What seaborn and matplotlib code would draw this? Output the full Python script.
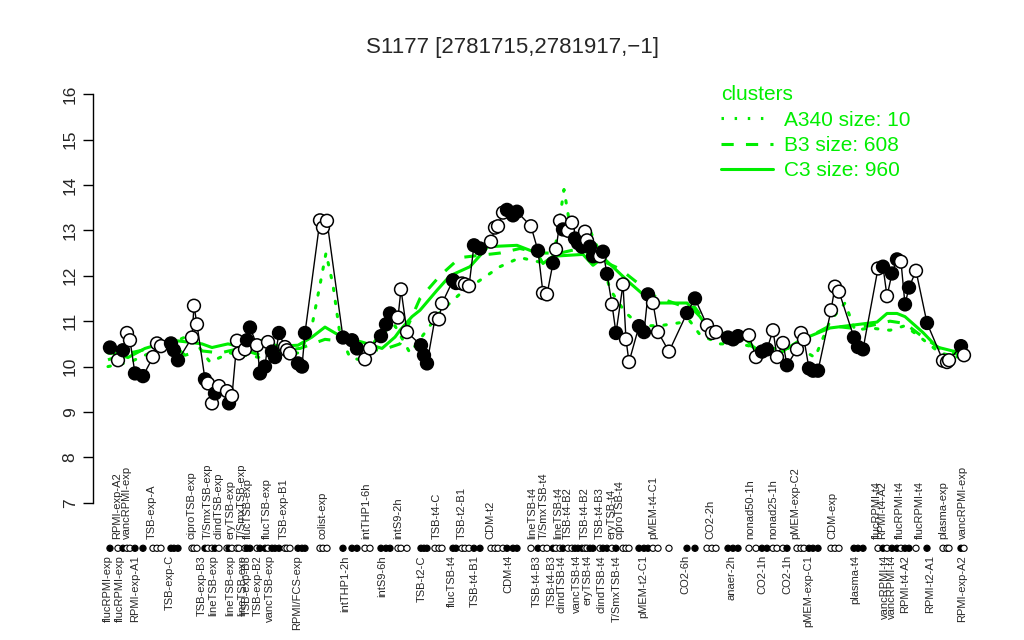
import pandas as pd
import matplotlib
matplotlib.use("Agg")
import matplotlib.pyplot as plt
from matplotlib.lines import Line2D
import seaborn as sns

# sample positions along the condition axis, expression values, filled (True) / open (False)
positions = [3.4, 5.0, 6.0, 6.8, 7.4, 8.4, 10.0, 12.0, 12.8, 13.6, 15.6, 16.2, 17.0,
             19.8, 20.2, 20.8, 22.4, 23.0, 23.8, 24.4, 25.2, 26.8, 27.2, 27.8, 28.8,
             29.2, 30.4, 30.8, 31.4, 32.8, 33.4, 34.4, 35.0, 35.8, 36.4, 37.2, 38.4,
             38.8, 39.4, 41.0, 41.8, 42.4, 45.4, 46.0, 46.8, 50.0, 51.8, 52.8, 54.4,
             55.4, 57.6, 58.6, 59.4, 61.0, 61.6, 62.8, 65.6, 66.2, 66.8, 68.4, 69.2,
             69.8, 72.0, 72.6, 73.8, 74.4, 75.2, 76.2, 77.4, 79.6, 80.4, 81.0, 82.0,
             82.8, 84.0, 84.8, 87.6, 89.0, 90.0, 90.8, 92.0, 92.6, 93.4, 94.0, 95.0,
             95.8, 96.4, 97.0, 97.8, 98.4, 98.8, 99.4, 100.0, 101.4, 102.0, 102.8,
             103.8, 104.6, 106.0, 106.6, 107.2, 109.2, 110.2, 111.0, 112.0, 113.0,
             115.2, 118.8, 120.4, 122.8, 123.8, 124.6, 127.0, 128.0, 129.0, 131.2,
             132.6, 133.8, 134.8, 136.0, 136.8, 138.0, 138.8, 140.8, 141.6, 142.2,
             143.2, 144.0, 145.0, 147.6, 148.4, 149.2, 152.2, 153.0, 154.0, 157.0,
             158.0, 158.8, 159.8, 160.8, 161.6, 162.4, 163.2, 164.6, 166.8, 170.0,
             170.8, 171.2, 173.6, 174.2]
values = [10.42, 10.14, 10.36, 10.74, 10.58, 9.85, 9.79, 10.21, 10.51, 10.45, 10.51,
          10.36, 10.14, 10.64, 11.34, 10.93, 9.72, 9.63, 9.19, 9.41, 9.57, 9.46, 9.19,
          9.35, 10.57, 10.29, 10.38, 10.58, 10.86, 10.47, 9.85, 10.0, 10.54, 10.33,
          10.21, 10.74, 10.43, 10.36, 10.29, 10.07, 10.0, 10.74, 13.22, 13.06, 13.21,
          10.64, 10.58, 10.40, 10.16, 10.40, 10.67, 10.93, 11.17, 11.08, 11.70, 10.76,
          10.47, 10.25, 10.07, 11.06, 11.04, 11.39, 11.90, 11.84, 11.83, 11.81, 11.77,
          12.67, 12.60, 12.75, 13.06, 13.09, 13.39, 13.45, 13.33, 13.41, 13.09, 12.55,
          11.62, 11.59, 12.28, 12.58, 13.21, 13.02, 12.99, 13.17, 12.82, 12.72, 12.64,
          12.97, 12.78, 12.64, 12.43, 12.43, 12.53, 12.04, 11.37, 10.74, 11.81, 10.60,
          10.10, 10.89, 10.76, 11.59, 11.40, 10.76, 10.33, 11.18, 11.50, 10.91, 10.74,
          10.76, 10.64, 10.60, 10.67, 10.69, 10.21, 10.33, 10.38, 10.80, 10.21, 10.52,
          10.03, 10.38, 10.74, 10.60, 9.96, 9.91, 9.91, 11.24, 11.76, 11.65, 10.64,
          10.43, 10.38, 12.16, 12.20, 11.55, 12.05, 12.36, 12.31, 11.37, 11.74, 12.11,
          10.96, 10.13, 10.10, 10.14, 10.45, 10.25]
filled = "FOFOOFFOOOFFFOOOFOOFOOFOOOOFFOFFOFFFOOOFFFOOOFFFOOFFFOOOFFFOOOFFOOOFFOOOOFFFOFOOFOOFOOFFFOOFFOFFOFOOOFFFOOOFFOOOFFFOOFFOOOFOOOFFFOOOFFFOFOFFOFFOFOOOFO"

# cluster profiles
c3_pos = [3.0, 4.4, 7.0, 10.4, 15.8, 19.0, 21.8, 23.8, 27.0, 30.4, 33.8, 37.0, 41.0,
          43.8, 46.4, 49.8, 53.8, 57.8, 60.4, 61.4, 63.8, 65.4, 68.8, 71.4, 75.4, 79.0,
          84.8, 88.8, 90.0, 92.0, 98.0, 100.0, 102.0, 107.4, 112.0, 118.8, 121.4,
          122.8, 126.8, 130.0, 133.4, 137.4, 141.4, 147.4, 156.8, 158.8, 160.8, 162.4,
          166.0, 168.8, 172.8, 173.8]
c3_val = [10.3, 10.29, 10.2, 10.4, 10.58, 10.54, 10.5, 10.42, 10.5, 10.42, 10.58,
          10.45, 10.47, 10.65, 10.87, 10.65, 10.54, 10.4, 10.65, 10.8, 11.1, 11.24,
          11.68, 12.0, 12.2, 12.64, 12.67, 12.5, 12.27, 12.43, 12.47, 12.23, 12.4,
          11.84, 11.4, 11.4, 11.1, 10.87, 10.7, 10.65, 10.3, 10.3, 10.58, 10.85, 10.98,
          11.17, 11.17, 11.1, 10.75, 10.43, 10.32, 10.2]
b3_pos = [3.0, 7.4, 11.4, 16.4, 18.4, 21.4, 25.4, 29.4, 33.4, 37.4, 41.4, 46.4, 50.4,
          57.4, 61.4, 65.4, 69.4, 73.4, 77.4, 81.4, 85.4, 89.4, 93.4, 97.4, 101.4,
          105.4, 109.4, 112.4, 117.4, 120.4, 123.4, 127.4, 133.4, 137.4, 141.4, 147.4,
          151.4, 155.4, 159.4, 162.4, 165.4, 169.4, 173.4]
b3_val = [10.15, 10.3, 10.4, 10.45, 10.25, 10.35, 10.3, 10.4, 10.25, 10.35, 10.4,
          10.6, 10.55, 10.35, 10.5, 11.5, 12.0, 12.4, 12.45, 12.5, 12.6, 12.5, 12.5,
          12.6, 12.35, 12.15, 11.8, 11.55, 11.35, 11.3, 10.85, 10.7, 10.35, 10.3, 10.55,
          10.9, 10.85, 10.9, 11.0, 10.95, 10.7, 10.4, 10.25]
a340_pos = [3.0, 7.4, 11.4, 15.4, 19.4, 23.4, 27.4, 33.4, 37.4, 41.4, 43.8, 45.4, 46.6,
            48.0, 49.4, 51.4, 53.4, 57.4, 60.4, 63.4, 65.4, 69.4, 73.4, 77.4, 81.4,
            85.4, 89.4, 91.8, 93.0, 94.2, 95.4, 97.4, 99.4, 101.4, 103.4, 106.4, 109.4,
            113.4, 119.4, 121.4, 125.4, 129.4, 133.4, 137.4, 141.4, 144.4, 147.4, 150.4,
            152.4, 155.4, 159.4, 162.4, 165.4, 169.4, 173.4]
a340_val = [10.0, 10.1, 10.3, 10.5, 10.7, 10.1, 10.3, 10.2, 10.3, 10.3, 10.9, 11.8,
            12.5, 11.8, 10.7, 10.2, 10.15, 10.7, 10.9, 10.3, 10.6, 11.2, 11.6, 11.9,
            12.2, 12.4, 12.3, 12.2, 13.0, 13.9, 13.1, 12.7, 13.0, 12.5, 11.7, 11.2,
            10.9, 10.9, 11.0, 10.7, 10.5, 10.5, 10.4, 10.4, 10.4, 10.2, 11.0, 11.4,
            10.8, 10.85, 10.8, 10.9, 10.65, 10.3, 10.2]

top_labels = ["RPMI-exp-A2", "vancRPMI-exp", "TSB-exp-A", "ciproTSB-exp", "T/SmxTSB-exp",
              "clindTSB-exp", "eryTSB-exp", "T/SmxTSB-exp", "flucTSB-exp", "flucTSB-exp",
              "TSB-exp-B1", "colist-exp", "intTHP1-6h", "intS9-2h", "TSB-t4-C",
              "TSB-t2-B1", "CDM-t2", "lineTSB-t4", "T/SmxTSB-t4", "lineTSB-t4",
              "TSB-t4-B2", "TSB-t4-B2", "TSB-t4-B3", "eryTSB-t4", "ciproTSB-t4",
              "pMEM-t4-C1", "CO2-2h", "nonad50-1h", "nonad25-1h", "pMEM-exp-C2",
              "CDM-exp", "flucRPMI-t4", "RPMI-t4-A2", "flucRPMI-t4", "flucRPMI-t4",
              "plasma-exp", "vancRPMI-exp"]
top_pos = [4.8, 6.8, 11.8, 19.8, 23.0, 25.2, 27.6, 29.8, 31.0, 34.8, 38.2, 46.0, 54.6,
           61.0, 68.8, 73.8, 79.4, 87.8, 90.2, 93.0, 95.0, 98.4, 101.4, 103.8, 105.4,
           112.0, 123.4, 131.4, 136.0, 140.4, 147.8, 156.8, 157.8, 161.4, 165.4, 170.0,
           174.0]
bottom_labels = ["flucRPMI-exp", "flucRPMI-exp", "RPMI-exp-A1", "TSB-exp-C", "TSB-exp-B3",
                 "lineTSB-exp", "lineTSB-exp", "lineTSB-exp", "TSB-exp-B3", "TSB-exp-B2",
                 "vancTSB-exp", "RPMI/FCS-exp", "intTHP1-2h", "intS9-6h", "TSB-t2-C",
                 "flucTSB-t4", "TSB-t4-B1", "CDM-t4", "TSB-t4-B3", "TSB-t4-B3",
                 "clindTSB-t4", "vancTSB-t4", "eryTSB-t4", "clindTSB-t4", "T/SmxTSB-t4",
                 "pMEM-t2-C1", "CO2-6h", "anaer-2h", "CO2-1h", "CO2-1h", "pMEM-exp-C1",
                 "plasma-t4", "vancRPMI-t4", "vancRPMI-t4", "RPMI-t4-A2", "RPMI-t2-A1",
                 "RPMI-exp-A2"]
bottom_pos = [3.0, 5.4, 8.4, 15.4, 21.8, 24.0, 27.4, 29.8, 30.8, 33.0, 35.4, 40.8, 50.4,
              57.8, 65.8, 71.8, 76.4, 83.0, 88.8, 91.8, 93.8, 96.8, 99.0, 101.8, 104.8,
              110.0, 118.4, 127.8, 133.8, 138.8, 143.0, 152.4, 158.4, 159.8, 162.4,
              167.4, 173.8]

df = pd.DataFrame({"pos": positions, "value": values,
                   "filled": [f == "F" for f in filled]})

sns.set_style("white")
plt.rcParams["font.family"] = ["Liberation Sans", "DejaVu Sans"]
GREEN = "#00ee00"

fig = plt.figure(figsize=(10.24, 6.4), dpi=100)
ax = fig.add_axes([0.0908, 0.0156, 0.876, 0.875])

# cluster lines
sns.lineplot(x=a340_pos, y=a340_val, ax=ax, color=GREEN, lw=2.2, linestyle=(0, (0.8, 3.5)),
             dash_capstyle="round", sort=False)
sns.lineplot(x=b3_pos, y=b3_val, ax=ax, color=GREEN, lw=2.2, linestyle=(0, (4, 4)), sort=False)
sns.lineplot(x=c3_pos, y=c3_val, ax=ax, color=GREEN, lw=2.2, sort=False)

# profile
sns.lineplot(data=df, x="pos", y="value", ax=ax, color="black", lw=1.0, sort=False)
sns.scatterplot(data=df, x="pos", y="value", hue="filled", palette={True: "black", False: "white"},
                edgecolor="black", linewidth=1.1, s=85, ax=ax, legend=False, zorder=5)

# strip of markers under the plot
strip_y = 6.0
sns.scatterplot(x=df["pos"], y=[strip_y] * len(df), hue=df["filled"],
                palette={True: "black", False: "white"}, edgecolor="black",
                linewidth=0.8, s=20, ax=ax, legend=False, zorder=5)

for lab, p in zip(top_labels, top_pos):
    ax.text(p, 6.2, lab, rotation=90, ha="center", va="bottom", fontsize=8)
for lab, p in zip(bottom_labels, bottom_pos):
    ax.text(p, 5.85, lab, rotation=90, ha="center", va="top", fontsize=8)

ax.set_xlim(0, 179.4)
ax.set_ylim(4.20, 16.53)
ax.set_yticks(range(7, 17))
ax.set_yticklabels([str(v) for v in range(7, 17)], rotation=90, va="center", fontsize=12.5)
ax.tick_params(axis="y", left=True, length=7, width=1, pad=4, color="black")
ax.set_xticks([])
ax.set_xlabel("")
ax.set_ylabel("")
for s in ["top", "right", "bottom"]:
    ax.spines[s].set_visible(False)
ax.spines["left"].set_bounds(7, 16)
ax.spines["left"].set_color("black")
ax.spines["left"].set_linewidth(1)

fig.text(0.5, 0.925, "S1177 [2781715,2781917,\u22121]", ha="center", va="center", fontsize=16)

handles = [Line2D([], [], color=GREEN, lw=2.2, linestyle=(0, (0.8, 3.5))),
           Line2D([], [], color=GREEN, lw=2.2, linestyle=(0, (4, 4))),
           Line2D([], [], color=GREEN, lw=2.2)]
leg = fig.legend(handles, ["A340 size: 10", "B3 size: 608", "C3 size: 960"],
                 title="clusters", loc="upper left", bbox_to_anchor=(0.694, 0.883),
                 frameon=False, fontsize=15, title_fontsize=15, handlelength=2.5,
                 handletextpad=0.5, labelspacing=0.3, alignment="left", borderpad=0.0)
leg.get_title().set_color(GREEN)
for t in leg.get_texts():
    t.set_color(GREEN)

fig.savefig("out.png", dpi=100)
